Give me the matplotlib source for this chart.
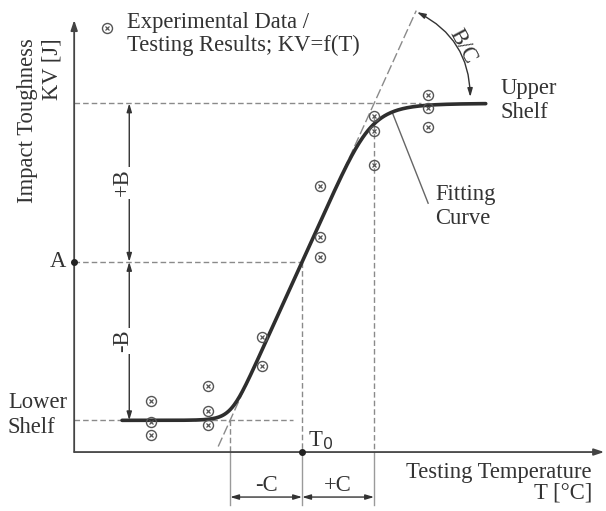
import numpy as np
import matplotlib.pyplot as plt

# test temperatures and impact energies (KV) of the specimens
temps = [-42, -42, -42, -26, -26, -26, -11, -11, 5, 5, 5, 20, 20, 20, 35, 35, 35]
kv = [16.1, 9.5, 5.4, 20.8, 12.9, 8.5, 36.3, 27.1, 83.9, 67.8, 61.5,
      106.0, 101.3, 90.5, 112.6, 108.5, 102.5]

# fitting parameters: KV = A + B * f((T - T0) / C)
A = 60.0
B = 50.0
C = 20.0
T0 = 0.0
lower_shelf = A - B
upper_shelf = A + B

t_origin = -63.3
t_curve = (-50, 51)

plt.rcParams['font.family'] = ['Liberation Serif', 'DejaVu Serif']
txt = '#333333'
gray = '#8a8a8a'
fs = 16.3


def fit(t):
    # linear transition with rounded knees (sharper at the lower shelf)
    u = (t - T0) / C
    p = np.where(u < 0, 10.0, 5.0)
    return A + B * u / (1 + np.abs(u) ** p) ** (1 / p)


fig = plt.figure(figsize=(6.06, 5.11), dpi=100)
ax = fig.add_axes([0, 0, 1, 1])
ax.set_xlim(-83.9, 84.4)
ax.set_ylim(-18.6, 142.6)
ax.axis('off')

# axes with arrows
ax.annotate('', xy=(t_origin, 136.3), xytext=(t_origin, 0),
            arrowprops=dict(arrowstyle='-|>,head_length=0.6,head_width=0.2',
                            color='#444444', lw=1.3, shrinkA=0, shrinkB=0))
ax.annotate('', xy=(83.9, 0), xytext=(t_origin, 0),
            arrowprops=dict(arrowstyle='-|>,head_length=0.6,head_width=0.2',
                            color='#444444', lw=1.3, shrinkA=0, shrinkB=0))

# guide lines
dash = dict(color=gray, lw=1, dashes=(4, 2.2))
ax.plot([t_origin, 33], [upper_shelf, upper_shelf], **dash)
ax.plot([t_origin, T0], [A, A], **dash)
ax.plot([t_origin, T0 - 2.5], [lower_shelf, lower_shelf], **dash)
ax.plot([T0, T0], [A, 0], **dash)
ax.plot([T0 - C, T0 - C], [lower_shelf, 0], **dash)
ax.plot([T0 + C, T0 + C], [106, 0], **dash)

# tangent at T0
tt = np.array([-23.3, 31.7])
ax.plot(tt, A + B * (tt - T0) / C, color=gray, lw=1, dashes=(7, 2.5))

# fitting curve
t = np.linspace(t_curve[0], t_curve[1], 400)
ax.plot(t, fit(t), color='#2e2e2e', lw=2.6, solid_capstyle='round', zorder=4)

# measured values
ax.plot(temps, kv, 'o', ms=7.2, mfc='none', mec='#555555', mew=1.0, zorder=5)
ax.plot(temps, kv, 'x', ms=3.4, mec='#555555', mew=0.9, zorder=5)

# legend entry
ax.plot([-54.2], [133.8], 'o', ms=7.2, mfc='none', mec='#555555', mew=1.0)
ax.plot([-54.2], [133.8], 'x', ms=3.4, mec='#555555', mew=0.9)
ax.text(-48.6, 135.6, 'Experimental Data /', fontsize=fs, color=txt,
        va='center', ha='left')
ax.text(-48.6, 128.4, 'Testing Results; KV=f(T)', fontsize=fs, color=txt,
        va='center', ha='left')

# points A and T0
ax.plot([t_origin], [A], 'o', ms=4, color='#222222', zorder=6)
ax.plot([T0], [0], 'o', ms=4, color='#222222', zorder=6)
ax.text(-67.8, A, 'A', fontsize=fs, color=txt, ha='center', va='center')
ax.text(1.7, 3.6, r'T$_0$', fontsize=fs, color=txt, ha='left', va='center')

# +B / -B dimensions
arr = dict(arrowstyle='<|-|>,head_length=0.5,head_width=0.15', color='#333333',
           lw=1, shrinkA=0, shrinkB=0)
tb = -48.0
ax.annotate('', xy=(tb, upper_shelf), xytext=(tb, A), arrowprops=arr)
ax.annotate('', xy=(tb, lower_shelf), xytext=(tb, A), arrowprops=arr)
ax.text(tb - 1.8, A + B * 0.5, '+B', fontsize=fs, color=txt, rotation=90,
        ha='center', va='center',
        bbox=dict(fc='white', ec='none', pad=1.5))
ax.text(tb - 1.8, A - B * 0.5, '-B', fontsize=fs, color=txt, rotation=90,
        ha='center', va='center',
        bbox=dict(fc='white', ec='none', pad=1.5))

# -C / +C dimensions
for x in [T0 - C, T0, T0 + C]:
    ax.plot([x, x], [0, -16.7], color='#9a9a9a', lw=1)
ax.annotate('', xy=(T0 - C, -14.2), xytext=(T0, -14.2), arrowprops=arr)
ax.annotate('', xy=(T0 + C, -14.2), xytext=(T0, -14.2), arrowprops=arr)
ax.text(T0 - C / 2, -10.6, '-C', fontsize=fs, color=txt, ha='center', va='center')
ax.text(T0 + C / 2, -10.6, '+C', fontsize=fs, color=txt, ha='center', va='center')

# slope B/C
ax.annotate('', xy=(46.7, 112.0), xytext=(31.9, 138.8),
            arrowprops=dict(arrowstyle='<|-|>,head_length=0.5,head_width=0.15',
                            color='#333333', lw=1, shrinkA=0, shrinkB=0,
                            connectionstyle='arc3,rad=-0.3'))
ax.text(44.7, 128.0, 'B/C', fontsize=fs, color=txt, rotation=-62,
        ha='center', va='center')

# leader to the curve
ax.plot([25, 35], [fit(25), 78.5], color='#666666', lw=1)

# labels
ax.text(-76.4, 130.6, 'Impact Toughness', fontsize=fs, color=txt,
        rotation=90, ha='center', va='top')
ax.text(-69.4, 130.6, 'KV [J]', fontsize=fs, color=txt,
        rotation=90, ha='center', va='top')
ax.text(-81.7, 11.7, 'Lower\nShelf', fontsize=fs, color=txt, ha='left', va='center')
ax.text(55.0, 111.0, 'Upper\nShelf', fontsize=fs, color=txt, ha='left', va='center')
ax.text(36.9, 77.5, 'Fitting\nCurve', fontsize=fs, color=txt, ha='left', va='center')
ax.text(80.5, -6.6, 'Testing Temperature', fontsize=fs, color=txt,
        ha='right', va='center')
ax.text(80.5, -13.0, 'T [°C]', fontsize=fs, color=txt, ha='right', va='center')

fig.savefig('out.png', dpi=100)
